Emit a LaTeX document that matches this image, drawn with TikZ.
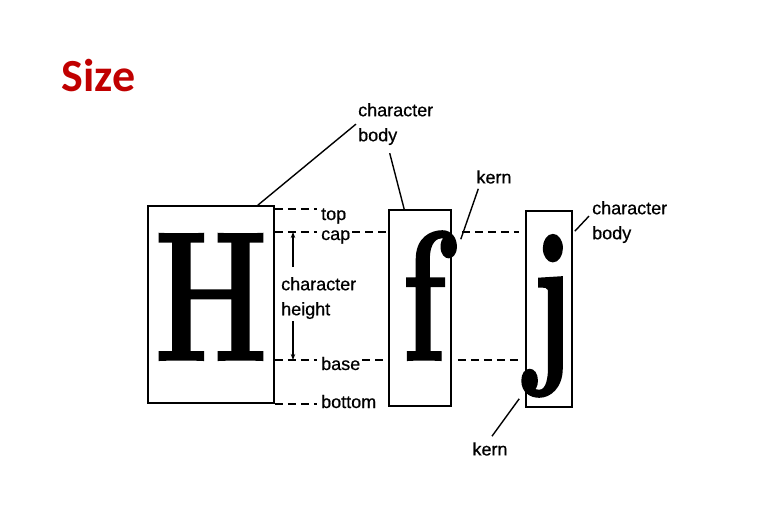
\documentclass[tikz,border=0pt]{standalone}
\usepackage{fontspec}
\usepackage{tikz}
\usetikzlibrary{arrows.meta,positioning,calc}
\newfontfamily\labelfont[FakeBold=0.6]{Liberation Sans}
\newfontfamily\titlefont{Carlito}
\newfontfamily\glyphfont[BoldFeatures={FakeBold=1.1}]{Latin Modern Roman}
\definecolor{titlered}{HTML}{C00000}
\newcommand{\glyph}[1]{\scalebox{0.7}[1]{#1}}

\begin{document}
\begin{tikzpicture}[
  x=1pt,y=-1pt,
  bodybox/.style={draw,line width=1.6pt,inner sep=0pt},
  letter/.style={anchor=base,inner sep=0pt,font=\glyphfont\fontsize{184}{184}\selectfont\bfseries},
  lbl/.style={font=\labelfont\fontsize{18}{25}\selectfont,inner sep=2pt,align=left},
  guide/.style={dash pattern=on 8pt off 5pt,line width=1.4pt},
  leader/.style={line width=1.4pt},
  dimarrow/.style={line width=1.4pt,-{Stealth[length=6pt,width=4.5pt]}}
]
  \useasboundingbox (0,0) rectangle (768,512);
  \node[font=\titlefont\fontsize{46}{46}\selectfont\bfseries,text=titlered,anchor=west] (size) at (58,76) {Size};

  % character bodies and letters
  \node[bodybox,minimum width=126pt,minimum height=197pt] (Hbox) at (211,304.5) {};
  \node[bodybox,minimum width=62pt,minimum height=196pt] (fbox) at (420,308) {};
  \node[bodybox,minimum width=46pt,minimum height=196pt] (jbox) at (549,309) {};
  \node[letter] (H) at (211,360) {\glyph{H}};
  \node[letter] (f) at (424,360) {\glyph{f}};
  \node[letter] (j) at (551,360) {\glyph{j}};

  % reference lines
  \coordinate (topline) at (0,209);
  \coordinate (capline) at (0,232);
  \coordinate (baseline) at (0,360);
  \coordinate (dimx) at (293,0);
  \node[lbl,anchor=base west] (toplbl) at (319,220) {top};
  \node[lbl,anchor=base west] (caplbl) at (319,240) {cap};
  \node[lbl,anchor=base west] (baselbl) at (319,370) {base};
  \node[lbl,anchor=base west] (bottomlbl) at (319,408) {bottom};
  \draw[guide,shorten >=2pt] (Hbox.east |- topline) -- (toplbl.west |- topline);
  \draw[guide,shorten >=2pt] (Hbox.east |- capline) -- (caplbl.west |- capline);
  \draw[guide] (caplbl.east |- capline) -- (fbox.west |- capline);
  \draw[guide,shorten >=2pt] (Hbox.east |- baseline) -- (baselbl.west |- baseline);
  \draw[guide] (baselbl.east |- baseline) -- (fbox.west |- baseline);
  \draw[guide,shorten >=2pt] (Hbox.south east) -- (Hbox.south east -| bottomlbl.west);
  \draw[guide,shorten <=10pt,shorten >=6pt] (fbox.east |- capline) -- (jbox.west |- capline);
  \draw[guide,shorten <=6pt,shorten >=6pt] (fbox.east |- baseline) -- (jbox.west |- baseline);

  % character height
  \node[lbl,anchor=north west] (chh) at (279,275) {character\\height};
  \draw[dimarrow,shorten <=8pt] (dimx |- chh.north) -- (dimx |- capline);
  \draw[dimarrow] (dimx |- chh.south) -- (dimx |- baseline);

  % callouts
  \node[lbl,anchor=north west] (bodytop) at (356,101) {character\\body};
  \draw[leader] ($(Hbox.north east)+(-17,0)$) -- (bodytop.west);
  \draw[leader] ($(bodytop.south)+(-6,6)$) -- ($(fbox.north west)+(16,0)$);
  \node[lbl] (kerntop) at (494,177) {kern};
  \draw[leader] ($(kerntop.south west)+(4,3)$) -- ($(fbox.north east)+(9,30)$);
  \node[lbl,anchor=north west] (bodyright) at (590,199) {character\\body};
  \draw[leader] ($(bodyright.west)+(-1,-6)$) -- ($(jbox.north east)+(2,21)$);
  \node[lbl] (kernbot) at (490,449) {kern};
  \draw[leader] ($(kernbot.north)+(2,-4)$) -- ($(jbox.south west)+(-6,-9)$);
\end{tikzpicture}
\end{document}
